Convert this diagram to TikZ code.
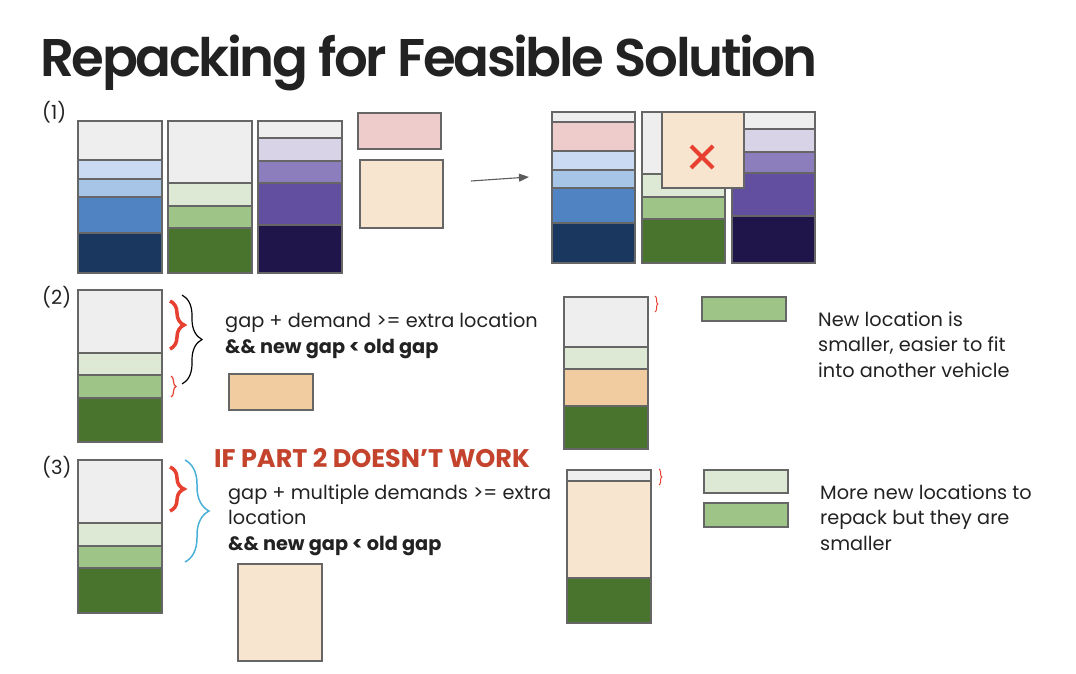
\documentclass[tikz,border=0pt]{standalone}
\usepackage{fontspec}
\setmainfont{Poppins}
\newfontfamily\titlefont[LetterSpace=-4.5]{Poppins SemiBold}
\usetikzlibrary{arrows.meta,decorations.pathreplacing}

\definecolor{edgegrey}{HTML}{666666}
\definecolor{inkgrey}{HTML}{222222}
\definecolor{gapgrey}{HTML}{EEEEEE}
\definecolor{blueA}{HTML}{CBDAF3}
\definecolor{blueB}{HTML}{A7C5E6}
\definecolor{blueC}{HTML}{5083C1}
\definecolor{blueD}{HTML}{1A375F}
\definecolor{greenA}{HTML}{DDE8D5}
\definecolor{greenB}{HTML}{9FC487}
\definecolor{greenC}{HTML}{48742D}
\definecolor{purpA}{HTML}{D9D3E7}
\definecolor{purpB}{HTML}{8C7DBD}
\definecolor{purpC}{HTML}{634FA0}
\definecolor{purpD}{HTML}{1F154B}
\definecolor{pinkA}{HTML}{EECCCC}
\definecolor{peachA}{HTML}{F8E5D0}
\definecolor{orangeA}{HTML}{F0CCA0}
\definecolor{braceRed}{HTML}{E84030}
\definecolor{braceBlue}{HTML}{4AB0D8}
\definecolor{headRed}{HTML}{C4432C}

\begin{document}
\begin{tikzpicture}[x=1pt,y=-1pt,>=Latex,
  blk/.style={draw=edgegrey,line width=1.3pt},
  txt/.style={anchor=base west,inner sep=0pt,text=inkgrey,font=\fontsize{19.3}{25.3}\selectfont,align=left},
  lbl/.style={anchor=base west,inner sep=0pt,text=inkgrey,font=\fontsize{19.5}{22}\selectfont},
  brc/.style={decorate,decoration={brace,amplitude=#1}}]
\useasboundingbox (0,0) rectangle (1076,674);

\node[anchor=base west,inner sep=0pt,text=inkgrey,font=\titlefont\fontsize{53}{58}\selectfont] (title) at (40,77) {Repacking for Feasible Solution};

% (1) before repacking
\node[lbl] (lab1) at (42,120) {(1)};
\draw[blk,fill=gapgrey] (78,121) rectangle (162,160);
\draw[blk,fill=blueA] (78,160) rectangle (162,179);
\draw[blk,fill=blueB] (78,179) rectangle (162,197);
\draw[blk,fill=blueC] (78,197) rectangle (162,233);
\draw[blk,fill=blueD] (78,233) rectangle (162,273);

\draw[blk,fill=gapgrey] (168,121) rectangle (252,183);
\draw[blk,fill=greenA] (168,183) rectangle (252,206);
\draw[blk,fill=greenB] (168,206) rectangle (252,228);
\draw[blk,fill=greenC] (168,228) rectangle (252,273);

\draw[blk,fill=gapgrey] (258,121) rectangle (342,138);
\draw[blk,fill=purpA] (258,138) rectangle (342,161);
\draw[blk,fill=purpB] (258,161) rectangle (342,183);
\draw[blk,fill=purpC] (258,183) rectangle (342,225);
\draw[blk,fill=purpD] (258,225) rectangle (342,273);

\draw[blk,fill=pinkA] (358,113) rectangle (441,149);
\draw[blk,fill=peachA] (360,160) rectangle (443,228);

\coordinate (arr_a) at (471,181);
\coordinate (arr_b) at (529,177);
\draw[-{Triangle[length=10pt,width=8pt]},edgegrey!90!black,line width=1.1pt] (arr_a) -- (arr_b);

% (1) after repacking
\draw[blk,fill=gapgrey] (552,112) rectangle (635,122);
\draw[blk,fill=pinkA] (552,122) rectangle (635,151);
\draw[blk,fill=blueA] (552,151) rectangle (635,170);
\draw[blk,fill=blueB] (552,170) rectangle (635,188);
\draw[blk,fill=blueC] (552,188) rectangle (635,223);
\draw[blk,fill=blueD] (552,223) rectangle (635,263);

\draw[blk,fill=gapgrey] (642,112) rectangle (725,174);
\draw[blk,fill=greenA] (642,174) rectangle (725,197);
\draw[blk,fill=greenB] (642,197) rectangle (725,219);
\draw[blk,fill=greenC] (642,219) rectangle (725,263);

\draw[blk,fill=gapgrey] (732,112) rectangle (815,129);
\draw[blk,fill=purpA] (732,129) rectangle (815,152);
\draw[blk,fill=purpB] (732,152) rectangle (815,173);
\draw[blk,fill=purpC] (732,173) rectangle (815,216);
\draw[blk,fill=purpD] (732,216) rectangle (815,263);

\draw[blk,fill=peachA] (662,112) rectangle (744,188);
\draw[braceRed,line width=4pt] (691,146) -- (713,168) (691,168) -- (713,146);

% (2)
\node[lbl] (lab2) at (42,304) {(2)};
\draw[blk,fill=gapgrey] (78,290) rectangle (162,353);
\draw[blk,fill=greenA] (78,353) rectangle (162,375);
\draw[blk,fill=greenB] (78,375) rectangle (162,398);
\draw[blk,fill=greenC] (78,398) rectangle (162,442);

\draw[brc=14pt,braceRed,line width=3.5pt] (170,301) -- (170,349);
\draw[brc=5pt,braceRed,line width=1.2pt] (171,376) -- (171,397);
\draw[brc=20pt,black,line width=1.2pt] (182,295) -- (182,384);

\node[txt] (cond2) at (225,353) {gap + demand >= extra location\\\textbf{\&\& new gap < old gap}};
\draw[blk,fill=orangeA] (229,374) rectangle (313,410);

\draw[blk,fill=gapgrey] (564,297) rectangle (648,347);
\draw[blk,fill=greenA] (564,347) rectangle (648,369);
\draw[blk,fill=orangeA] (564,369) rectangle (648,406);
\draw[blk,fill=greenC] (564,406) rectangle (648,449);
\draw[brc=3pt,braceRed,line width=1pt] (655,296) -- (655,312);

\draw[blk,fill=greenB] (702,297) rectangle (786,321);
\node[txt] (note2) at (818,377) {New location is\\smaller, easier to fit\\into another vehicle};

% (3)
\node[lbl] (lab3) at (42,474) {(3)};
\node[anchor=base west,inner sep=0pt,text=headRed,font=\bfseries\fontsize{25.5}{28}\selectfont] (head3) at (214,467) {IF PART 2 DOESN’T WORK};
\draw[blk,fill=gapgrey] (78,460) rectangle (162,523);
\draw[blk,fill=greenA] (78,523) rectangle (162,546);
\draw[blk,fill=greenB] (78,546) rectangle (162,568);
\draw[blk,fill=greenC] (78,568) rectangle (162,613);

\draw[brc=14pt,braceRed,line width=3.5pt] (170,467) -- (170,511);
\draw[brc=24pt,braceBlue,line width=1.5pt] (185,460) -- (185,562);

\node[txt] (cond3) at (228,550) {gap + multiple demands >= extra\\location\\\textbf{\&\& new gap < old gap}};
\draw[blk,fill=peachA] (238,564) rectangle (322,661);

\draw[blk,fill=gapgrey] (567,470) rectangle (651,481);
\draw[blk,fill=peachA] (567,481) rectangle (651,578);
\draw[blk,fill=greenC] (567,578) rectangle (651,623);
\draw[brc=3pt,braceRed,line width=1pt] (659,469) -- (659,485);

\draw[blk,fill=greenA] (704,470) rectangle (788,493);
\draw[blk,fill=greenB] (704,503) rectangle (788,527);
\node[txt] (note3) at (820,550) {More new locations to\\repack but they are\\smaller};
\end{tikzpicture}
\end{document}
